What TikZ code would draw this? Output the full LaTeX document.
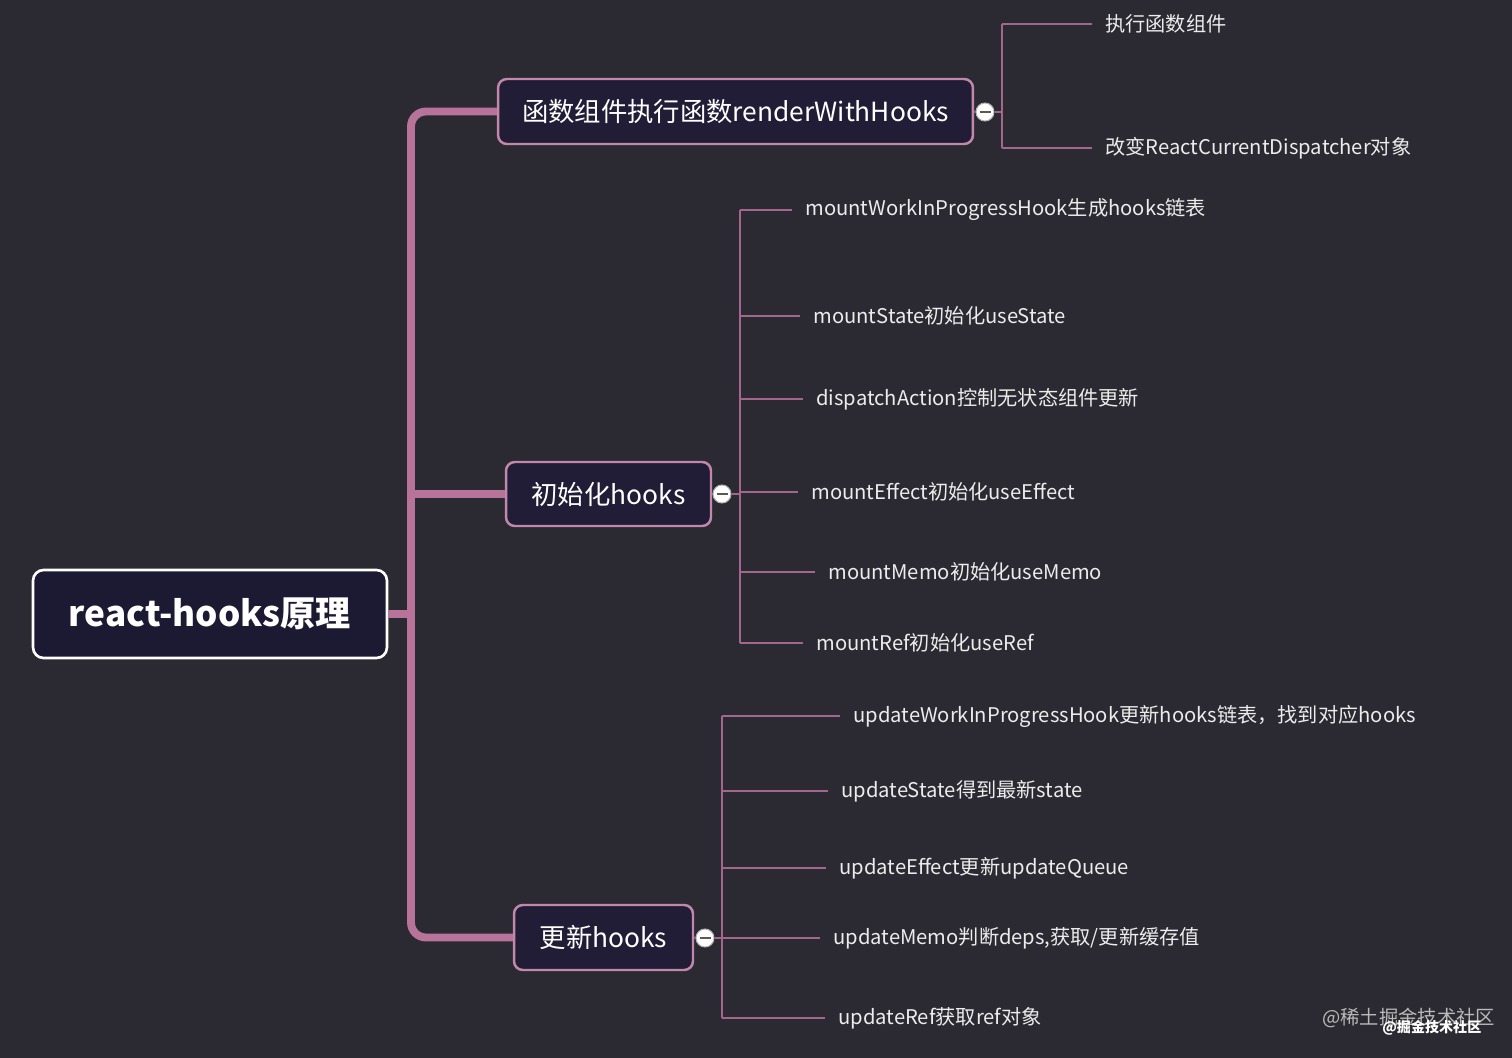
\documentclass[tikz,border=0pt]{standalone}
\usepackage{fontspec}
\setmainfont{Noto Sans CJK SC}
\usetikzlibrary{calc}

\definecolor{bgcol}{HTML}{2B2A32}
\definecolor{rootfill}{HTML}{1C1A33}
\definecolor{boxfill}{HTML}{211D36}
\definecolor{branch}{HTML}{B7739A}
\definecolor{twig}{HTML}{A5668D}
\definecolor{leaftext}{HTML}{ECECEC}

\tikzset{
  rootbox/.style={draw=white, line width=1.5pt, fill=rootfill, rounded corners=6pt,
    text=white, font=\fontsize{20}{24}\selectfont\bfseries, inner sep=0pt},
  topicbox/.style={draw=branch!85!white, line width=1.4pt, fill=boxfill, rounded corners=5pt,
    text=white, font=\fontsize{15}{18}\selectfont, inner sep=0pt},
  leaf/.style={anchor=west, inner xsep=0.26cm, inner ysep=2pt, text=leaftext,
    font=\fontsize{11.5}{14}\selectfont},
  trunk/.style={draw=branch, line width=4.5pt},
  twigline/.style={draw=twig, line width=1.4pt},
  fold/.style={circle, draw=gray!60, fill=white, line width=0.6pt, minimum size=0.36cm, inner sep=0pt,
    path picture={\draw[gray!70!black, line width=1.2pt]
      ([xshift=-0.11cm]path picture bounding box.center) -- ([xshift=0.11cm]path picture bounding box.center);}}
}

\begin{document}
\begin{tikzpicture}[x=0.02cm,y=-0.02cm]
        \fill[bgcol] (0,0) rectangle (1512,1058);
        % root and the three topics
        \node[rootbox, minimum width=7.08cm, minimum height=1.76cm] (root) at (210,614) {react-hooks原理};
        \node[topicbox, minimum width=9.5cm, minimum height=1.3cm] (render) at (735.5,111.5) {函数组件执行函数renderWithHooks};
        \node[topicbox, minimum width=4.1cm, minimum height=1.28cm] (mount) at (608.5,494) {初始化hooks};
        \node[topicbox, minimum width=3.58cm, minimum height=1.3cm] (update) at (603.5,937.5) {更新hooks};
        \coordinate (spine) at (411,614);
        \draw[trunk] (root.east) -- (spine);
        \draw[trunk, rounded corners=0.3cm] (render.west) -| (spine) |- (update.west);
        \draw[trunk] (spine |- mount.west) -- (mount.west);
        % fold buttons
        \node[fold] (foldA) at (985,112) {};
        \node[fold] (foldB) at (722,494) {};
        \node[fold] (foldC) at (705,938) {};
        \draw[twigline] (render.east) -- (foldA.west);
        \draw[twigline] (mount.east) -- (foldB.west);
        \draw[twigline] (update.east) -- (foldC.west);
        \coordinate (ba) at (1002,112);
        \coordinate (bb) at (740,494);
        \coordinate (bc) at (722,938);
        \draw[twigline] (foldA.east) -- (ba);
        \draw[twigline] (foldB.east) -- (bb);
        \draw[twigline] (foldC.east) -- (bc);
        % leaves
        \foreach \y/\e/\t [count=\i] in {24/1092/执行函数组件, 148/1092/改变ReactCurrentDispatcher对象} {
            \node[leaf] (la\i) at (\e,\y) {\t};
            \draw[twigline] (ba |- la\i.west) -- (la\i.west);
          }
        \draw[twigline] (ba |- la1.west) -- (ba |- la2.west);
        \foreach \y/\e/\t [count=\i] in {210/792/mountWorkInProgressHook生成hooks链表, 316/800/mountState初始化useState,
            399/803/dispatchAction控制无状态组件更新, 492/798/mountEffect初始化useEffect,
            572/815/mountMemo初始化useMemo, 643/803/mountRef初始化useRef} {
            \node[leaf] (lb\i) at (\e,\y) {\t};
            \draw[twigline] (bb |- lb\i.west) -- (lb\i.west);
          }
        \draw[twigline] (bb |- lb1.west) -- (bb |- lb6.west);
        \foreach \y/\e/\t [count=\i] in {716/840/{updateWorkInProgressHook更新hooks链表，找到对应hooks},
            791/828/updateState得到最新state, 868/826/updateEffect更新updateQueue,
            938/820/{updateMemo判断deps,获取/更新缓存值}, 1018/825/updateRef获取ref对象} {
            \node[leaf] (lc\i) at (\e,\y) {\t};
            \draw[twigline] (bc |- lc\i.west) -- (lc\i.west);
          }
        \draw[twigline] (bc |- lc1.west) -- (bc |- lc5.west);
        % watermark
        \node[anchor=west, inner sep=0pt, text=gray!55, font=\fontsize{11}{13}\selectfont] (wmA) at (1322,1018) {@稀土掘金技术社区};
        \node[anchor=west, inner sep=0pt, text=white, font=\fontsize{8}{10}\selectfont\bfseries] (wmB) at (1382,1028) {@掘金技术社区};
      \end{tikzpicture}
\end{document}
